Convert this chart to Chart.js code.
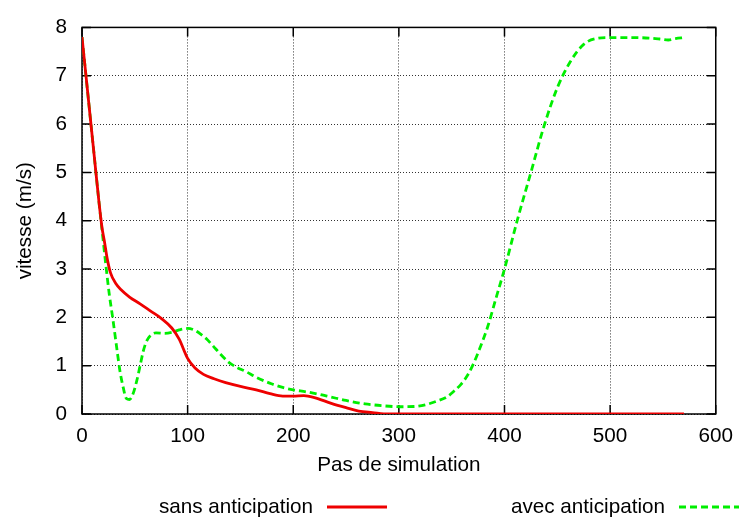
<!DOCTYPE html>
<html>
<head>
<meta charset="utf-8">
<script src="https://cdn.jsdelivr.net/npm/chart.js@4"></script>
<style>
  body { margin: 0; background: #fff; }
  #wrap { width: 743px; height: 522px; }
</style>
</head>
<body>
<div id="wrap"><canvas id="chart" width="743" height="522"></canvas></div>
<script>
// vitesse (m/s) en fonction du pas de simulation
const sansSteps = [0, 4, 8, 12, 16, 19, 21, 24, 27, 32, 37, 45, 55, 65, 75, 85, 92, 100, 107, 115, 125, 136, 150, 165, 178, 190, 200, 210, 220, 236, 250, 262, 275, 290, 570];
const sansSpeed = [7.8, 6.95, 6.1, 5.25, 4.4, 3.85, 3.6, 3.2, 2.92, 2.7, 2.57, 2.42, 2.28, 2.13, 1.98, 1.78, 1.55, 1.15, 0.95, 0.82, 0.73, 0.65, 0.57, 0.5, 0.42, 0.37, 0.37, 0.38, 0.34, 0.22, 0.13, 0.06, 0.03, 0.0, 0.0];

const avecSteps = [0, 4, 8, 12, 16, 20, 23, 26, 29, 33, 36, 39, 42, 45, 48, 52, 55, 58, 61, 65, 70, 78, 85, 92, 100, 106, 112, 118, 124, 131, 139, 147, 155, 165, 180, 190, 200, 212, 224, 236, 250, 268, 285, 301, 315, 325, 335, 346, 352, 359, 365, 370, 377, 384, 392, 400, 412, 425, 438, 450, 462, 475, 487, 500, 520, 537, 547, 555, 562, 570];
const avecSpeed = [7.8, 6.95, 6.1, 5.25, 4.4, 3.6, 3.0, 2.45, 2.0, 1.35, 0.88, 0.55, 0.32, 0.3, 0.4, 0.7, 1.0, 1.3, 1.5, 1.63, 1.68, 1.67, 1.69, 1.74, 1.77, 1.74, 1.66, 1.55, 1.41, 1.24, 1.07, 0.96, 0.88, 0.76, 0.62, 0.55, 0.5, 0.46, 0.41, 0.35, 0.28, 0.21, 0.17, 0.15, 0.155, 0.19, 0.26, 0.36, 0.47, 0.62, 0.8, 1.01, 1.38, 1.8, 2.4, 3.0, 4.0, 5.0, 6.0, 6.75, 7.28, 7.65, 7.77, 7.79, 7.79, 7.78, 7.76, 7.74, 7.77, 7.79];

const seriesLabels = ['sans anticipation', 'avec anticipation'];
const xTicks = [0, 100, 200, 300, 400, 500, 600];
const yTicks = [0, 1, 2, 3, 4, 5, 6, 7, 8];

const FONT = '"Liberation Sans", Arial, sans-serif';

function toPoints(xs, ys) {
    return xs.map((x, i) => ({ x: x, y: ys[i] }));
}

// cadre + graduations vers l'intérieur (style gnuplot)
const framePlugin = {
    id: 'frame',
    beforeDatasetsDraw(chart) {
        const ctx = chart.ctx;
        const a = chart.chartArea;
        const xs = chart.scales.x, ys = chart.scales.y;
        const len = 9;
        ctx.save();
        ctx.strokeStyle = '#000';
        ctx.lineWidth = 1.5;
        ctx.beginPath();
        xs.ticks.forEach(t => {
            const px = xs.getPixelForValue(t.value);
            ctx.moveTo(px, a.bottom); ctx.lineTo(px, a.bottom - len);
            ctx.moveTo(px, a.top); ctx.lineTo(px, a.top + len);
        });
        ys.ticks.forEach(t => {
            const py = ys.getPixelForValue(t.value);
            ctx.moveTo(a.left, py); ctx.lineTo(a.left + len, py);
            ctx.moveTo(a.right, py); ctx.lineTo(a.right - len, py);
        });
        ctx.stroke();
        ctx.strokeRect(a.left, a.top, a.right - a.left, a.bottom - a.top);
        ctx.restore();
    }
};

// légende en bas : texte puis échantillon de ligne
const keyPlugin = {
    id: 'key',
    afterDraw(chart) {
        const ctx = chart.ctx;
        const cols = [327, 679];
        const y = 507;
        ctx.save();
        ctx.font = '20.7px ' + FONT;
        ctx.fillStyle = '#000';
        ctx.textAlign = 'right';
        ctx.textBaseline = 'middle';
        chart.data.datasets.forEach((ds, i) => {
            const x0 = cols[i];
            ctx.fillText(ds.label, x0 - 14, y);
            ctx.strokeStyle = ds.borderColor;
            ctx.lineWidth = ds.borderWidth;
            ctx.setLineDash(ds.borderDash || []);
            ctx.beginPath();
            ctx.moveTo(x0, y);
            ctx.lineTo(x0 + 60, y);
            ctx.stroke();
        });
        ctx.restore();
    }
};

Chart.defaults.font.family = FONT;
Chart.defaults.font.size = 20.7;
Chart.defaults.color = '#000';

const ctx = document.getElementById('chart').getContext('2d');
new Chart(ctx, {
    type: 'line',
    data: {
        datasets: [
            {
                label: seriesLabels[0],
                data: toPoints(sansSteps, sansSpeed),
                borderColor: '#ee0000',
                borderWidth: 2.8,
                pointRadius: 0,
                cubicInterpolationMode: 'monotone',
                fill: false
            },
            {
                label: seriesLabels[1],
                data: toPoints(avecSteps, avecSpeed),
                borderColor: '#00ee00',
                borderWidth: 2.8,
                borderDash: [7, 4],
                pointRadius: 0,
                cubicInterpolationMode: 'monotone',
                fill: false
            }
        ]
    },
    options: {
        responsive: false,
        animation: false,
        devicePixelRatio: 1,
        layout: { padding: { left: 0, right: 23, top: 15, bottom: 0 } },
        plugins: {
            legend: { display: false },
            tooltip: { enabled: false }
        },
        scales: {
            x: {
                type: 'linear',
                min: 0,
                max: 600,
                afterBuildTicks: scale => { scale.ticks = xTicks.map(v => ({ value: v })); },
                afterFit: scale => { scale.height = 108; },
                ticks: { padding: 10, maxRotation: 0, autoSkip: false },
                grid: { color: '#333', lineWidth: 1, drawTicks: false },
                border: { display: false, dash: [1, 2] },
                title: { display: true, text: 'Pas de simulation', padding: { top: 0, bottom: 44 } }
            },
            y: {
                min: 0,
                max: 8,
                afterBuildTicks: scale => { scale.ticks = yTicks.map(v => ({ value: v })); },
                afterFit: scale => { scale.width = 82; },
                ticks: { padding: 15, autoSkip: false },
                grid: { color: '#333', lineWidth: 1, drawTicks: false },
                border: { display: false, dash: [1, 2] },
                title: { display: true, text: 'vitesse (m/s)', padding: { top: 13, bottom: 0 } }
            }
        }
    },
    plugins: [framePlugin, keyPlugin]
});
</script>
</body>
</html>
